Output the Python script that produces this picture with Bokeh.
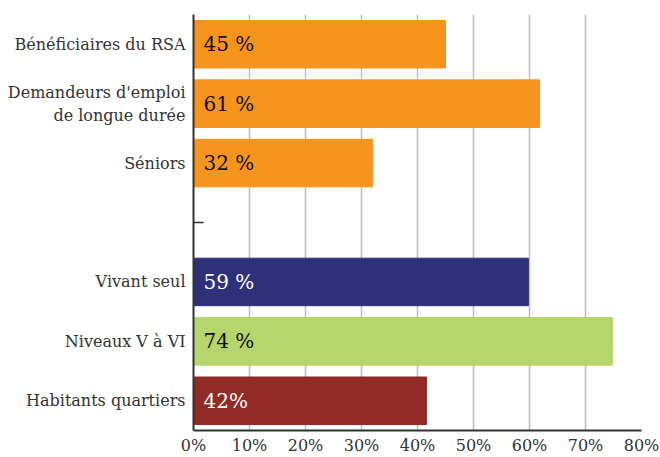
from bokeh.plotting import figure
from bokeh.models import Range1d, FixedTicker, ColumnDataSource, NumeralTickFormatter
from bokeh.core.properties import value
from bokeh.embed import file_html
from bokeh.resources import INLINE

# categories from top to bottom ("" = empty slot separating the two groups)
categories = ["Bénéficiaires du RSA", "Demandeurs d'emploi\nde longue durée", "Séniors",
              "", "Vivant seul", "Niveaux V à VI", "Habitants quartiers"]
bar_categories = ["Bénéficiaires du RSA", "Demandeurs d'emploi\nde longue durée", "Séniors",
                  "Vivant seul", "Niveaux V à VI", "Habitants quartiers"]
bar_values = [45, 61.8, 32, 59.8, 74.8, 41.6]
bar_labels = ["45 %", "61 %", "32 %", "59 %", "74 %", "42%"]
bar_colors = ["#F7941D", "#F7941D", "#F7941D", "#2E3179", "#B5D56D", "#922A25"]
label_colors = ["#111111", "#111111", "#111111", "#FFFFFF", "#111111", "#FFFFFF"]
x_ticks = [0, 10, 20, 30, 40, 50, 60, 70, 80]

n = len(categories)
pos = {c: n - 0.5 - i for i, c in enumerate(categories)}
ys = [pos[c] for c in bar_categories]
gap_y = pos[""]

src = ColumnDataSource(dict(y=ys, v=bar_values, lab=bar_labels, col=bar_colors, lc=label_colors))

FONT = "DejaVu Serif"

p = figure(width=660, height=457, min_border_left=193, min_border_top=14,
           min_border_right=19, min_border_bottom=0,
           x_range=Range1d(0, 80), y_range=Range1d(0, n),
           output_backend="svg", toolbar_location=None)
p.outline_line_color = None

p.hbar(y="y", left=0, right="v", height=0.8, color="col", source=src)
p.text(x=0, y="y", text="lab", x_offset=10, text_baseline="middle",
       text_color="lc", text_font=value(FONT), text_font_size="20px", source=src)

# small tick marking the empty slot
p.segment(x0=[0], y0=[gap_y], x1=[1.8], y1=[gap_y], line_color="#333333", line_width=1.5)

# x axis
p.xaxis.ticker = FixedTicker(ticks=x_ticks)
p.xaxis.formatter = NumeralTickFormatter(format="0")
p.xaxis.major_label_overrides = {t: f"{t}%" for t in x_ticks}
p.xaxis.major_label_text_font = FONT
p.xaxis.major_label_text_font_size = "16px"
p.xaxis.major_label_text_color = "#333333"
p.xaxis.major_label_standoff = 5
p.xaxis.major_tick_out = 0
p.xaxis.major_tick_in = 0
p.xaxis.major_tick_line_color = None
p.xaxis.minor_tick_line_color = None
p.xaxis.axis_line_color = "#333333"
p.xaxis.axis_line_width = 2

# y axis
p.yaxis.ticker = FixedTicker(ticks=[pos[c] for c in categories if c])
p.yaxis.major_label_overrides = {pos[c]: c for c in categories if c}
p.yaxis.major_label_text_font = FONT
p.yaxis.major_label_text_font_size = "16px"
p.yaxis.major_label_text_color = "#333333"
p.yaxis.major_label_standoff = 8
p.yaxis.major_tick_out = 0
p.yaxis.major_tick_in = 0
p.yaxis.major_tick_line_color = None
p.yaxis.minor_tick_line_color = None
p.yaxis.axis_line_color = "#333333"
p.yaxis.axis_line_width = 2

p.ygrid.grid_line_color = None
p.xgrid.ticker = FixedTicker(ticks=x_ticks)
p.xgrid.grid_line_color = "#BDBDBD"
p.xgrid.grid_line_width = 1.5

open("out.html", "w").write(file_html(p, INLINE))
